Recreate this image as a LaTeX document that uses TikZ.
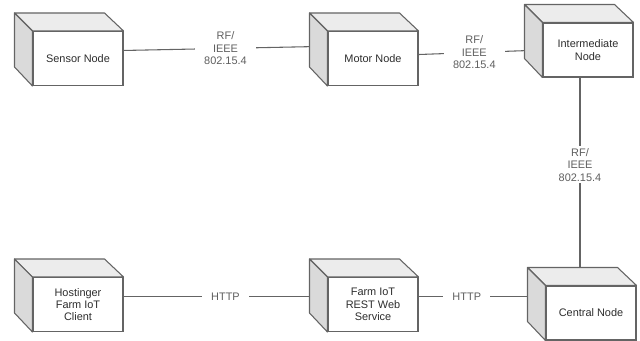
\documentclass[tikz,border=0pt]{standalone}
\usepackage{fontspec}
\setmainfont{Liberation Sans}
\usepackage{tikz}
\usetikzlibrary{positioning, calc, backgrounds}
\usepackage{xcolor}
\definecolor{boxline}{RGB}{100, 100, 100}
\definecolor{sideface}{RGB}{218, 218, 218}
\definecolor{topface}{RGB}{236, 236, 236}
\definecolor{nodetext}{RGB}{45, 45, 45}
\definecolor{linktext}{RGB}{95, 95, 95}

% depth faces of a UML deployment node
\newcommand{\nodefaces}[1]{
  \filldraw[facedraw, fill=topface] (#1.north west) -- ++(-18,-18)
    -- ++(90,0) -- (#1.north east) -- cycle;
  \filldraw[facedraw, fill=sideface] (#1.north west) -- ++(-18,-18)
    -- ++(0,54) -- (#1.south west) -- cycle;
}

\begin{document}
\begin{tikzpicture}[
    x=0.75pt, y=-0.75pt,
    devnode/.style={draw=boxline, fill=white, line width=0.8pt,
                    minimum width=67.5pt, minimum height=40.5pt,
                    inner sep=0pt, align=center, text=nodetext,
                    font=\fontsize{8.2}{9.3}\selectfont},
    facedraw/.style={draw=boxline, line width=0.8pt, line join=round},
    link/.style={draw=boxline, line width=0.8pt},
    linklabel/.style={fill=white, text=linktext, align=center,
                      inner xsep=7pt, inner ysep=1.5pt,
                      font=\fontsize{8.2}{9.3}\selectfont},
  ]
    \useasboundingbox (0,0) rectangle (640,340);

    % Top row
    \node[devnode] (sensor) at (78,58.5) {Sensor Node};
    \nodefaces{sensor}
    \node[devnode] (motor) at (373,58.5) {Motor Node};
    \nodefaces{motor}
    \node[devnode] (inter) at (588,50) {Intermediate\\Node};
    \nodefaces{inter}

    % Bottom row
    \node[devnode] (client) at (78,304.5) {Hostinger\\Farm IoT\\Client};
    \nodefaces{client}
    \node[devnode] (rest) at (373,304.5) {Farm IoT\\REST Web\\Service};
    \nodefaces{rest}
    \node[devnode] (central) at (591,313) {Central Node};
    \nodefaces{central}

    % Links
    \begin{scope}[on background layer]
      \draw[link] (sensor.10) -- (motor.165)
        node[linklabel, midway] {RF/\\IEEE\\802.15.4};
      \draw[link] (motor.5) -- (inter.west)
        node[linklabel, pos=0.45] {RF/\\IEEE\\802.15.4};
      \draw[link] ([xshift=-6pt]inter.south) -- ([xshift=-6pt]inter.south |- central.north)
        node[linklabel, pos=0.42, inner xsep=2pt] {RF/\\IEEE\\802.15.4};
      \draw[link] (client.10) -- (client.10 -| rest.west)
        node[linklabel, midway] {HTTP};
      \draw[link] (rest.10) -- (rest.10 -| central.west)
        node[linklabel, pos=0.38] {HTTP};
    \end{scope}
\end{tikzpicture}
\end{document}
